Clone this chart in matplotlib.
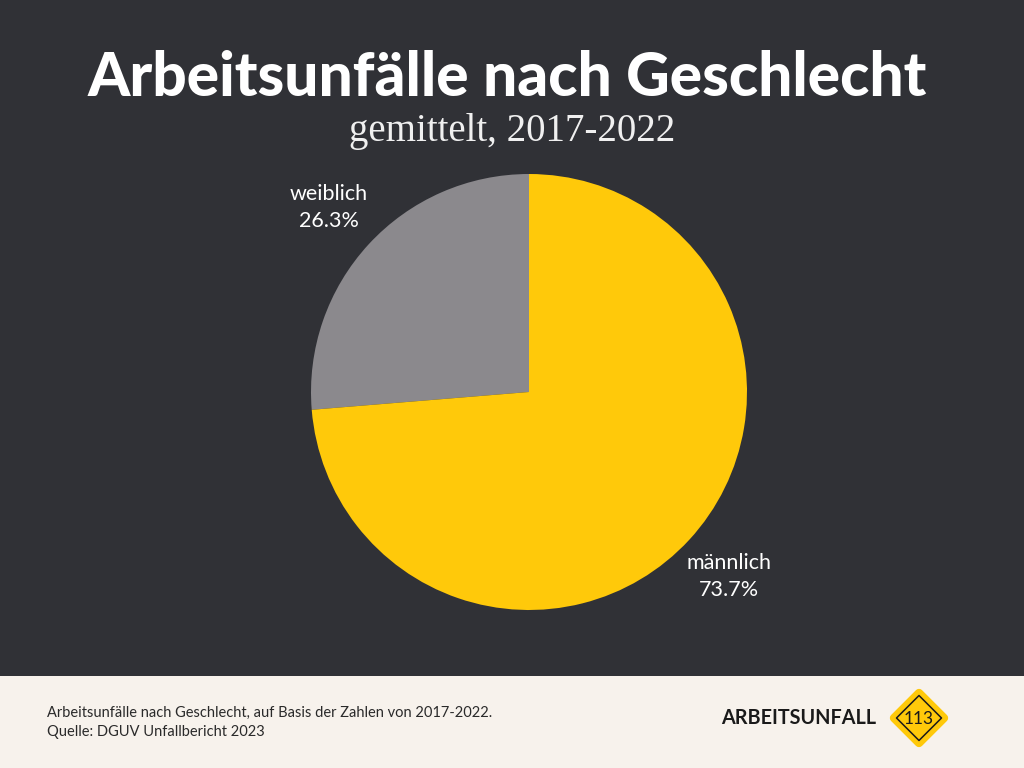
import matplotlib
matplotlib.use("Agg")
import matplotlib.pyplot as plt
from matplotlib.patches import Rectangle, Polygon

categories = ["weiblich", "männlich"]
shares = [26.3, 73.7]
colors = ["#8b898d", "#ffc90a"]
title = "Arbeitsunfälle nach Geschlecht"
subtitle = "gemittelt, 2017-2022"
footer_lines = ["Arbeitsunfälle nach Geschlecht, auf Basis der Zahlen von 2017-2022.",
                "Quelle: DGUV Unfallbericht 2023"]
brand = "ARBEITSUNFALL"
badge = "113"

BG = "#303136"
FOOT = "#f7f2ec"

fig = plt.figure(figsize=(10.24, 7.68), dpi=100, facecolor=BG)

# overlay in pixel coordinates
ov = fig.add_axes([0, 0, 1, 1])
ov.set_xlim(0, 1024)
ov.set_ylim(768, 0)
ov.axis("off")
ov.add_patch(Rectangle((0, 676), 1024, 92, facecolor=FOOT, edgecolor="none"))

ov.text(507, 78, title, ha="center", va="center", color="white",
        fontsize=43.5, fontweight="black", family="Lato")
ov.text(512, 131, subtitle, ha="center", va="center", color="#f0f0f0",
        fontsize=28, family="Liberation Serif")

ov.text(47, 713, footer_lines[0], ha="left", va="center", color="#2a2a2a",
        fontsize=10.5, family="Lato")
ov.text(47, 732, footer_lines[1], ha="left", va="center", color="#2a2a2a",
        fontsize=10.5, family="Lato")
ov.text(721, 718, brand, ha="left", va="center", color="#1a1a1a",
        fontsize=14.2, fontweight="bold", family="Lato")

cx, cy, r = 919, 718, 25
ov.add_patch(Polygon([(cx, cy - r), (cx + r, cy), (cx, cy + r), (cx - r, cy)],
                     closed=True, facecolor="#ffc90a", edgecolor="#ffc90a",
                     linewidth=6, joinstyle="round"))
r2 = 22.5
ov.add_patch(Polygon([(cx, cy - r2), (cx + r2, cy), (cx, cy + r2), (cx - r2, cy)],
                     closed=True, facecolor="none", edgecolor="#1a1a1a",
                     linewidth=1.1, joinstyle="round"))
ov.text(cx, cy + 1, badge, ha="center", va="center", color="#1a1a1a",
        fontsize=12.5, family="Lato")

# pie
R = 218.0
half = 300.0
ax = fig.add_axes([(529 - half) / 1024, (768 - 392 - half) / 768, 2 * half / 1024, 2 * half / 768])
labels = [f"{c}\n{s:.1f}%" for c, s in zip(categories, shares)]
wedges, texts = ax.pie(shares, colors=colors, startangle=90, counterclock=True,
                       labels=labels, labeldistance=1.25, radius=1,
                       wedgeprops=dict(linewidth=0),
                       textprops=dict(color="white", fontsize=15.5, family="Lato",
                                      ha="center", va="center", linespacing=1.45))
ax.set_xlim(-half / R, half / R)
ax.set_ylim(-half / R, half / R)
ax.set_aspect("equal")
ax.axis("off")

fig.savefig("out.png", dpi=100, facecolor=BG)
